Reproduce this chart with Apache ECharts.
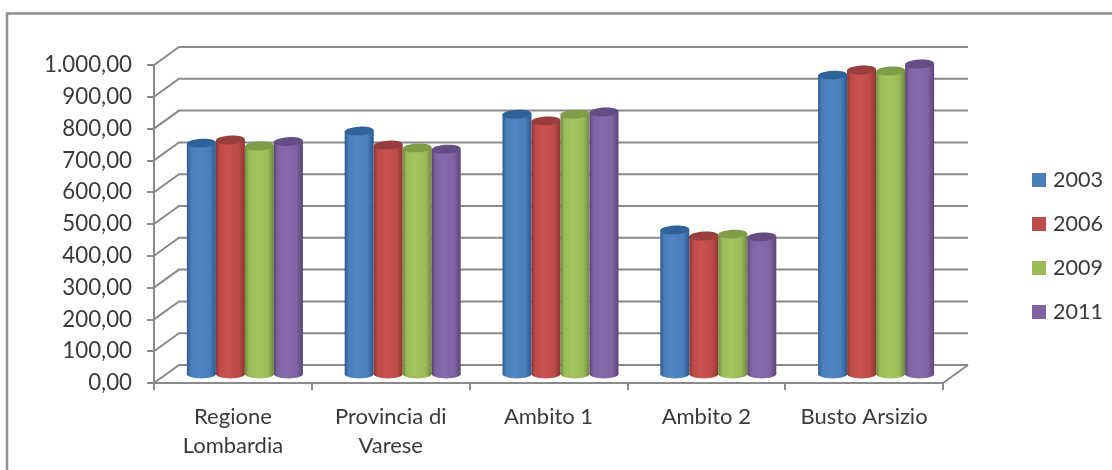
<!DOCTYPE html>
<html><head><meta charset="utf-8">
<style>html,body{margin:0;padding:0;background:#fff}#c{width:1112px;height:470px;filter:blur(0.5px)}</style>
<script src="https://cdn.jsdelivr.net/npm/echarts@6/dist/echarts.min.js"></script>
</head><body><div id="c"></div>
<script>
const categories = ['Regione\nLombardia','Provincia di\nVarese','Ambito 1','Ambito 2','Busto Arsizio'];
const years = ['2003','2006','2009','2011'];
const v2003 = [726,764,817,453,940];
const v2006 = [736,720,796,434,956];
const v2009 = [717,711,817,440,953];
const v2011 = [731,707,824,431,975];
const yTicks = [0,100,200,300,400,500,600,700,800,900,1000];
const yTickLabels = ['0,00','100,00','200,00','300,00','400,00','500,00','600,00','700,00','800,00','900,00','1.000,00'];
const seriesValues = [v2003,v2006,v2009,v2011];

const colors = ['#4a7ebb','#be4b48','#9bbb59','#8064a2'];
const mids   = ['#4f86c6','#c9524f','#a4c45f','#8769ad'];
const edges  = ['#2c5b90','#8e3533','#6f8a3c','#5a4579'];
const tops   = ['#30629a','#983e3c','#7f9c47','#644d84'];
const gray = '#8a8a8a', txt = '#3a3a3a';
const DX = 25, DY = 18, BW = 29, RY = 4.4;

function wall(params, api){
  const cs = params.coordSys;
  const y = api.coord([0, api.value(0)])[1];
  const L = cs.x, R = cs.x + cs.width;
  const kids = [{type:'polyline',shape:{points:[[L,y],[L+DX,y-DY],[R+DX,y-DY]]},style:{fill:'none',stroke:gray,lineWidth:2}}];
  if (api.value(0) === 0) {
    kids.push({type:'line',shape:{x1:R,y1:y,x2:R+DX,y2:y-DY},style:{stroke:gray,lineWidth:2}});
  }
  return {type:'group',children:kids};
}
function cylinder(si){
  return function(params, api){
    const top = api.coord([api.value(0), api.value(1)]);
    const base = api.coord([api.value(0), 0]);
    const cx = top[0] + DX/2 - 0.5 + (si-1.5)*BW;
    const yT = top[1] - DY/2, yB = base[1] - DY/2;
    const grad = {type:'linear',x:0,y:0,x2:1,y2:0,colorStops:[
      {offset:0,color:edges[si]},{offset:.14,color:colors[si]},{offset:.42,color:mids[si]},
      {offset:.78,color:colors[si]},{offset:1,color:edges[si]}]};
    return {type:'group',children:[
      {type:'ellipse',shape:{cx:cx,cy:yB,rx:BW/2,ry:RY},style:{fill:grad}},
      {type:'rect',shape:{x:cx-BW/2,y:yT,width:BW,height:yB-yT},style:{fill:grad}},
      {type:'ellipse',shape:{cx:cx,cy:yT,rx:BW/2,ry:RY},rotation:0.05,originX:cx,originY:yT,style:{fill:tops[si]}}
    ]};
  };
}
const chart = echarts.init(document.getElementById('c'),null,{renderer:'canvas'});
const series = [{
  type:'custom',name:'wall',silent:true,clip:false,z:1,
  data:yTicks.map(t=>[t]),encode:{y:0},renderItem:wall
}];
years.forEach((y,i)=>series.push({
  type:'custom',name:y,clip:false,z:2+i,
  itemStyle:{color:colors[i]},
  data:categories.map((c,k)=>[k,seriesValues[i][k]]),
  encode:{x:0,y:1},renderItem:cylinder(i)
}));
chart.setOption({
  animation:false,
  backgroundColor:'#fff',
  textStyle:{fontFamily:'Lato'},
  grid:{left:154,width:789,top:65,height:318,containLabel:false},
  xAxis:{type:'category',data:categories,
    axisLine:{lineStyle:{color:gray,width:2}},
    axisTick:{show:true,length:7,lineStyle:{color:gray,width:2},alignWithLabel:false},
    axisLabel:{interval:0,margin:19,fontFamily:'Lato',fontSize:22,color:txt,lineHeight:29,hideOverlap:false},
    splitLine:{show:false}},
  yAxis:{type:'value',min:0,max:1000,interval:100,
    axisLine:{show:true,lineStyle:{color:gray,width:2}},
    axisTick:{show:true,length:7,lineStyle:{color:gray,width:2}},
    axisLabel:{margin:22,fontFamily:'Lato',fontSize:22.3,color:txt,padding:[2,0,0,0],
      formatter:function(v){return yTickLabels[yTicks.indexOf(v)];}},
    splitLine:{show:false}},
  legend:{data:years,orient:'vertical',left:1027,top:164,itemWidth:14,itemHeight:14,itemGap:22,
    icon:'rect',selectedMode:false,textStyle:{fontFamily:'Lato',fontSize:21.5,color:txt,padding:[0,0,0,2]}},
  graphic:[
    {type:'polyline',z:0,shape:{points:[[7,470],[7,13.5],[1112,13.5]]},style:{fill:'none',stroke:'#8f8f8f',lineWidth:2.5}}
  ],
  series:series
});
</script></body></html>
